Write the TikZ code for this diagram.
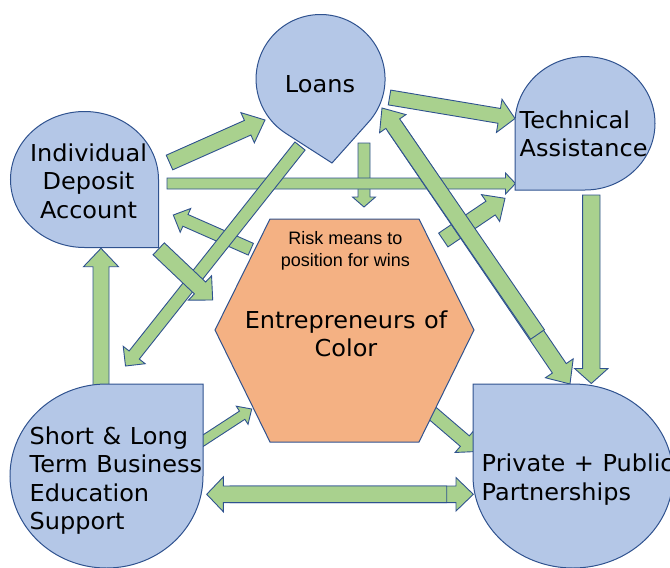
\documentclass[tikz,border=0pt]{standalone}
\usepackage{fontspec}
\setmainfont[FakeStretch=1.03, WordSpace=1.12]{DejaVu Sans}
\newfontfamily\riskfont{Liberation Sans}
\usepackage{tikz}
\usetikzlibrary{calc}

\definecolor{dropblue}{HTML}{B4C7E7}
\definecolor{lineblue}{HTML}{2F528F}
\definecolor{arrowgreen}{HTML}{A9D18E}
\definecolor{hexorange}{HTML}{F4B183}

\tikzset{
  sw/.store in=\arsw, hw/.store in=\arhw, hl/.store in=\arhl,
  sw=8pt, hw=16.5pt, hl=17pt,
  block/.style={fill=arrowgreen, draw=lineblue, line width=0.9pt, line join=miter,
    to path={($(\tikztostart)!\arsw!90:(\tikztotarget)$)
      -- ($(\tikztotarget)!\arhl!(\tikztostart)!\arsw!90:(\tikztotarget)$)
      -- ($(\tikztotarget)!\arhl!(\tikztostart)!\arhw!90:(\tikztotarget)$)
      -- (\tikztotarget)
      -- ($(\tikztotarget)!\arhl!(\tikztostart)!\arhw!-90:(\tikztotarget)$)
      -- ($(\tikztotarget)!\arhl!(\tikztostart)!\arsw!-90:(\tikztotarget)$)
      -- ($(\tikztostart)!\arsw!-90:(\tikztotarget)$) -- cycle}},
  bubble/.style={fill=dropblue, draw=lineblue, line width=1pt},
  hexa/.style={fill=hexorange, draw=lineblue, line width=1pt},
  txt/.style={inner sep=0pt, font=\fontsize{23.3}{28.4}\selectfont}
}

\begin{document}
\begin{tikzpicture}[x=1pt, y=-1pt]
  \useasboundingbox (0,0) rectangle (670,568);
  \clip (0,0) rectangle (670,568);

  % arrow ends
  \coordinate (IL1) at (169.5,162.5);  \coordinate (IL2) at (265,120);
  \coordinate (IT1) at (167,183.5);    \coordinate (IT2) at (515.5,183.5);
  \coordinate (LT1) at (389.5,97.5);   \coordinate (LT2) at (515,118.5);
  \coordinate (LE1) at (364,143);      \coordinate (LE2) at (364,207);
  \coordinate (LS1) at (300,146);      \coordinate (LS2) at (125.5,366);
  \coordinate (LP1) at (395,127);      \coordinate (LP2) at (570,384);
  \coordinate (PL1) at (537.5,334.5);  \coordinate (PL2) at (382,108);
  \coordinate (IE1) at (158.7,248.8);  \coordinate (IE2) at (212.7,300);
  \coordinate (EI1) at (250.8,249.2);  \coordinate (EI2) at (173.3,215);
  \coordinate (ET1) at (443.3,240);    \coordinate (ET2) at (505,198.3);
  \coordinate (TP1) at (591.3,195);    \coordinate (TP2) at (591.3,383.5);
  \coordinate (EP1) at (421.8,404.2);  \coordinate (EP2) at (477,451.5);
  \coordinate (SE1) at (198,444);      \coordinate (SE2) at (251.7,409);
  \coordinate (SI1) at (101,386);      \coordinate (SI2) at (101,248.3);
  \coordinate (SP1) at (230,494.3);    \coordinate (SP2) at (473.3,494.3);
  \coordinate (PS1) at (446.7,494.3);  \coordinate (PS2) at (206.7,494.3);

  \draw[block, sw=6pt, hw=11.5pt, hl=10pt] (LE1) to (LE2);
  \draw[block, sw=5.5pt, hw=10.5pt, hl=10pt] (IT1) to (IT2);
  \draw[block, sw=8pt, hw=16.5pt, hl=19pt] (IL1) to (IL2);
  \draw[block, sw=7.5pt, hw=16.8pt, hl=16pt] (LT1) to (LT2);
  \draw[block, sw=6.4pt, hw=13pt, hl=13.3pt] (EI1) to (EI2);
  \draw[block, sw=6.5pt, hw=14pt, hl=14pt] (LS1) to (LS2);
  \draw[block, sw=8.2pt, hw=16.8pt, hl=17.5pt] (IE1) to (IE2);
  \draw[block, sw=8.3pt, hw=16.2pt, hl=17.4pt] (ET1) to (ET2);
  \draw[block, sw=8.4pt, hw=16.8pt, hl=19pt] (LP1) to (LP2);
  \draw[block, sw=8.4pt, hw=16pt, hl=19pt] (PL1) to (PL2);
  \draw[block, sw=8.7pt, hw=16.7pt, hl=15pt] (TP1) to (TP2);
  \draw[block, sw=6.9pt, hw=15pt, hl=16pt] (EP1) to (EP2);
  \draw[block, sw=4.9pt, hw=10.8pt, hl=11.4pt] (SE1) to (SE2);
  \draw[block, sw=8pt, hw=17.5pt, hl=18.4pt] (SI1) to (SI2);
  \draw[block, sw=8.3pt, hw=16.7pt, hl=17.3pt] (SP1) to (SP2);
  \draw[block, sw=8.3pt, hw=17.5pt, hl=16.7pt] (PS1) to (PS2);

  % shapes
  \draw[bubble] (332,163) -- (368.7,121.9)
    arc[start angle=-41.7, end angle=237.3, radius=64.5pt] -- cycle;
  \draw[bubble] (158.5,247.5) -- (158.5,179.5)
    arc[start angle=0, end angle=270, x radius=74pt, y radius=68pt] -- cycle;
  \draw[bubble] (515,190) -- (515,123.3)
    arc[start angle=180, end angle=-90, x radius=70pt, y radius=66.7pt] -- cycle;
  \draw[bubble] (203,384) -- (106.5,384)
    arc[start angle=90, end angle=360, x radius=96.5pt, y radius=92pt] -- cycle;
  \draw[bubble] (473,384) -- (473,476)
    arc[start angle=180, end angle=450, x radius=100pt, y radius=92pt] -- cycle;
  \draw[hexa] (270,219) -- (419,219) -- (474,330) -- (419,442) -- (270,442)
    -- (215,330) -- cycle;

  \node[txt] (L) at (320,84.2) {Loans};
  \node[txt, align=center] (IDA) at (88.5,181.2) {Individual\\Deposit\\Account};
  \node[txt, align=left, anchor=west] (TA) at (519.5,133.7) {Technical\\Assistance};
  \node[txt, align=left, anchor=west] (SL) at (29.5,480.5)
    {Short \& Long\\Term Business\\Education\\Support};
  \node[txt, align=left, anchor=west] (PP) at (481.5,479.6)
    {Private + Public\\Partnerships};
  \node[txt, align=center] (E) at (346,333.7) {Entrepreneurs of\\Color};
  \node[inner sep=0pt, align=center, font=\riskfont\fontsize{18}{21.7}\selectfont]
    (R) at (345.3,250.8) {Risk means to\\position for wins};
\end{tikzpicture}
\end{document}
